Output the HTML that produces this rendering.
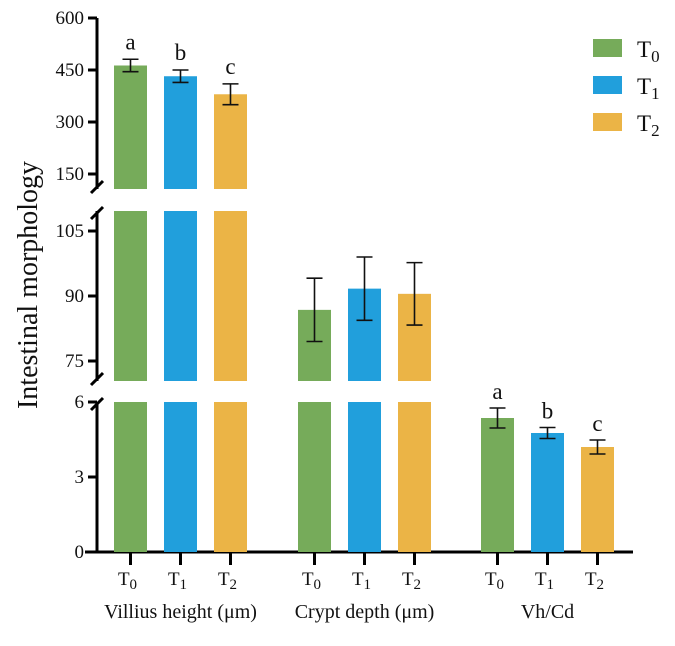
<!DOCTYPE html>
<html><head><meta charset="utf-8"><style>
body{margin:0;background:#fff}
svg text{font-family:"Liberation Serif",serif;fill:#111}
</style></head><body>
<svg id="c" width="675" height="641" viewBox="0 0 675 641" xmlns="http://www.w3.org/2000/svg"></svg>
<script>
const groups=["Villius height (μm)","Crypt depth (μm)","Vh/Cd"];
const treatments=["0","1","2"];
const colors=["#76ab5a","#219fdc","#ebb446"];
const villiMean=[463,432,380], villiErr=[18,18,30];
const cryptMean=[86.8,91.7,90.5], cryptErr=[7.3,7.3,7.2];
const ratioMean=[5.36,4.76,4.2], ratioErr=[0.4,0.22,0.28];
const letters=[["a","b","c"],["","",""],["a","b","c"]];
const topTicks=[150,300,450,600], midTicks=[75,90,105], botTicks=[0,3,6];

const svg=document.getElementById('c');const NS='http://www.w3.org/2000/svg';
function mk(t,a,txt){const e=document.createElementNS(NS,t);for(const k in a)e.setAttribute(k,a[k]);if(txt!==undefined)e.textContent=txt;svg.appendChild(e);return e;}
const yTop=v=>18+(600-v)*52/150, topBot=189;
const yMid=v=>296+(90-v)*65/15, midTop=211, midBot=381;
const yBot=v=>552-v*75/3, botTop=402;
const X0=97;
const groupStart=[114,298,481], step=50, bw=33;
function axisSeg(y1,y2,n){const l=mk('line',{x1:X0,y1:y1,x2:X0,y2:y2,stroke:'#000','stroke-width':3});}
axisSeg(18,topBot,'y-axis-top');axisSeg(midTop,midBot,'y-axis-middle');axisSeg(botTop,553,'y-axis-bottom');
[[topBot,midTop],[midBot,botTop]].forEach((p,i)=>{
 [p[0]-2,p[1]+2].forEach(y=>{const l=mk('line',{x1:X0-6,y1:y+6,x2:X0+6,y2:y-6,stroke:'#000','stroke-width':3});});
});
function ticks(arr,f){arr.forEach(v=>{const y=f(v);const l=mk('line',{x1:X0-9,y1:y,x2:X0,y2:y,stroke:'#000','stroke-width':3});
 const t=mk('text',{x:X0-13,y:y+6,'text-anchor':'end','font-size':19},String(v));});}
ticks(topTicks,yTop);ticks(midTicks,yMid);ticks(botTicks,yBot);
const xa=mk('line',{x1:X0-12,y1:552,x2:633,y2:552,stroke:'#000','stroke-width':3});
function bar(x,top,bot,c){const r=mk('rect',{x:x,y:Math.min(top,bot),width:bw,height:Math.abs(bot-top),fill:c});}
function err(cx,y1,y2){const p=mk('path',{d:`M${cx},${y1}V${y2}M${cx-8},${y1}H${cx+8}M${cx-8},${y2}H${cx+8}`,stroke:'#111','stroke-width':1.6,fill:'none'});}
function letter(cx,y,s){if(!s)return;const t=mk('text',{x:cx,y:y,'text-anchor':'middle','font-size':23},s);}
for(let i=0;i<3;i++){
 const c=colors[i];
 let x=groupStart[0]+i*step,cx=x+bw/2;
 bar(x,yTop(villiMean[i]),topBot,c);bar(x,midTop,midBot,c);bar(x,botTop,552,c);
 err(cx,yTop(villiMean[i]+villiErr[i]),yTop(villiMean[i]-villiErr[i]));letter(cx,yTop(villiMean[i]+villiErr[i])-10,letters[0][i]);
 x=groupStart[1]+i*step;cx=x+bw/2;
 bar(x,yMid(cryptMean[i]),midBot,c);bar(x,botTop,552,c);
 err(cx,yMid(cryptMean[i]+cryptErr[i]),yMid(cryptMean[i]-cryptErr[i]));
 x=groupStart[2]+i*step;cx=x+bw/2;
 bar(x,yBot(ratioMean[i]),552,c);
 err(cx,yBot(ratioMean[i]+ratioErr[i]),yBot(ratioMean[i]-ratioErr[i]));letter(cx,yBot(ratioMean[i]+ratioErr[i])-9,letters[2][i]);
}
groups.forEach((g,gi)=>{treatments.forEach((t,i)=>{const cx=groupStart[gi]+i*step+bw/2;
 const l=mk('line',{x1:cx,y1:552,x2:cx,y2:565,stroke:'#000','stroke-width':3});
 const tx=mk('text',{x:cx-3,y:585,'text-anchor':'middle','font-size':19});
 tx.innerHTML=`T<tspan font-size="15" dy="4">${t}</tspan>`;});
 const cx=groupStart[gi]+step+bw/2;
 const gl=mk('text',{x:cx,y:618,'text-anchor':'middle','font-size':20},g);
});
const yt=mk('text',{x:0,y:0,'text-anchor':'middle','font-size':28,transform:'translate(37,285) rotate(-90)'},'Intestinal morphology');
treatments.forEach((t,i)=>{const y=39+i*37;
 const r=mk('rect',{x:593,y:y,width:29,height:18,fill:colors[i]});
 const tx=mk('text',{x:637,y:y+18,'font-size':23});
 tx.innerHTML=`T<tspan font-size="17" dy="5">${t}</tspan>`;});
</script>
</body></html>
